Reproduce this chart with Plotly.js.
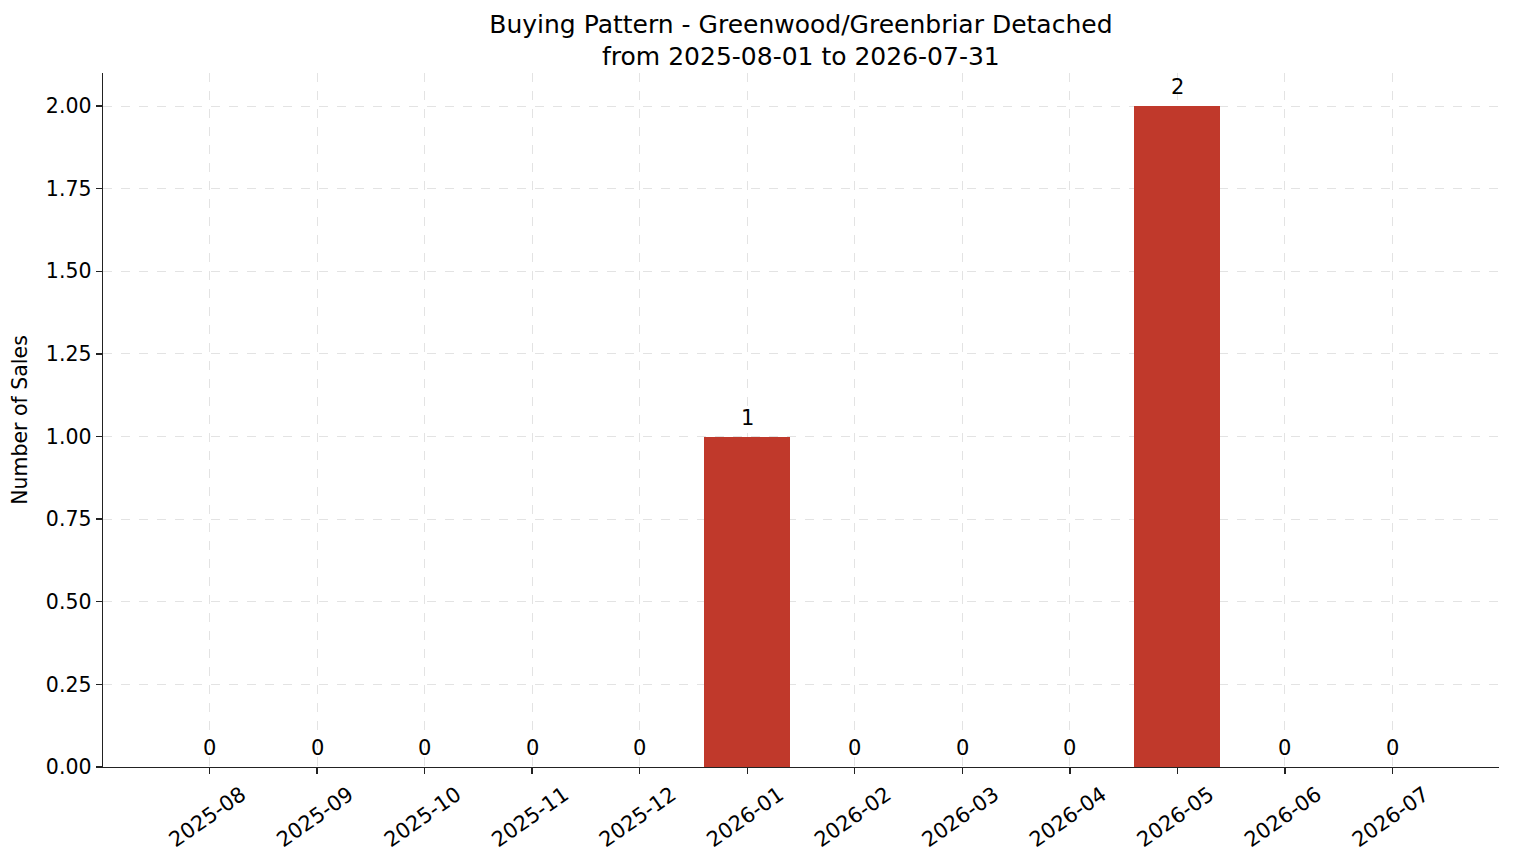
<!DOCTYPE html>
<html>
<head>
<meta charset="utf-8">
<script src="https://cdn.plot.ly/plotly-3.0.1.min.js"></script>
<style>html,body{margin:0;padding:0;background:#fff;}#chart{width:1514px;height:863px;}</style>
</head>
<body>
<div id="chart"></div>
<script>
const months = ["2025-08","2025-09","2025-10","2025-11","2025-12","2026-01","2026-02","2026-03","2026-04","2026-05","2026-06","2026-07"];
const sales = [0,0,0,0,0,1,0,0,0,2,0,0];
const titleLines = ["Buying Pattern - Greenwood/Greenbriar Detached", "from 2025-08-01 to 2026-07-31"];
const yTickVals = [0,0.25,0.5,0.75,1.0,1.25,1.5,1.75,2.0];
const yTickText = yTickVals.map(v => v.toFixed(2));

const font = "DejaVu Sans, sans-serif";
const xs = months.map((m,i)=>i);
const trace = {
  type: "bar",
  x: xs,
  y: sales,
  width: 0.8,
  marker: {color: "#c0392b", line: {width: 0}},
  hoverinfo: "skip"
};
const labels = sales.map((v,i)=>({
  x: xs[i], y: v, xref: "x", yref: "y", text: String(v), showarrow: false,
  yanchor: "bottom", yshift: 5, font: {family: font, size: 21, color: "#000"}
}));
const layout = {
  width: 1514, height: 863,
  margin: {l: 103, r: 15, t: 73, b: 96},
  paper_bgcolor: "#fff", plot_bgcolor: "#fff",
  font: {family: font, color: "#000"},
  showlegend: false,
  title: {text: titleLines.join("<br>"), font: {family: font, size: 25, color: "#000"}, x: 0.529, xanchor: "center", yref: "container", y: 0.962, yanchor: "top"},
  annotations: labels,
  xaxis: {
    range: [-0.99, 11.99],
    tickmode: "array", tickvals: xs, ticktext: months,
    tickangle: -35, tickfont: {family: font, size: 21},
    ticklabelshift: 32,
    showline: true, linecolor: "#222", linewidth: 1.4,
    ticks: "outside", ticklen: 6, tickwidth: 1.4, tickcolor: "#222",
    showgrid: true, gridcolor: "#dcdcdc", griddash: "dash", gridwidth: 0.8,
    zeroline: false, mirror: false
  },
  yaxis: {
    range: [0, 2.1],
    tickmode: "array", tickvals: yTickVals, ticktext: yTickText,
    tickfont: {family: font, size: 20.5},
    title: {text: "Number of Sales", font: {family: font, size: 20.5}, standoff: 12},
    showline: true, linecolor: "#222", linewidth: 1.4,
    ticks: "outside", ticklen: 6, tickwidth: 1.4, tickcolor: "#222",
    showgrid: true, gridcolor: "#dcdcdc", griddash: "dash", gridwidth: 0.8,
    zeroline: false
  },
  bargap: 0
};
Plotly.newPlot("chart", [trace], layout, {displayModeBar: false, staticPlot: true});
</script>
</body>
</html>
